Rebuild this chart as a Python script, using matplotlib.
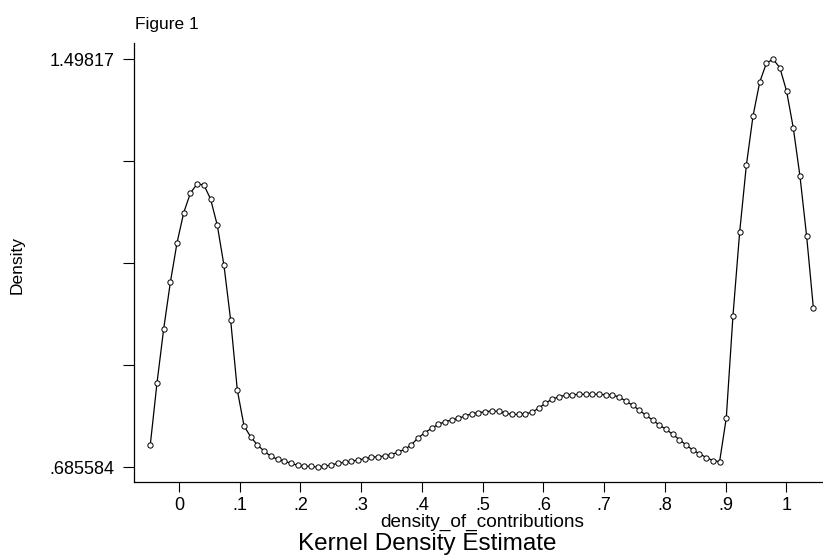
import matplotlib
matplotlib.use("Agg")
import matplotlib.pyplot as plt
import numpy as np

plt.rcParams["font.family"] = ["Liberation Sans", "DejaVu Sans"]

# evaluation grid of the kernel density (100 points)
x_start = -0.0473
x_end = 1.0445
n_points = 100

density = [
    0.730, 0.853, 0.961, 1.054, 1.133, 1.193, 1.232, 1.250, 1.248, 1.220,
    1.168, 1.088, 0.979, 0.839, 0.768, 0.746, 0.730, 0.718, 0.7075, 0.7015,
    0.698, 0.6936, 0.6896, 0.6876, 0.6876, 0.685584, 0.6876, 0.6902, 0.6936, 0.6955,
    0.6975, 0.7001, 0.7027, 0.7055, 0.7067, 0.7081, 0.7107, 0.7161, 0.7214, 0.7306,
    0.7445, 0.7545, 0.7633, 0.7712, 0.7764, 0.7798, 0.7832, 0.7878, 0.7923, 0.7943,
    0.7963, 0.7977, 0.7971, 0.7937, 0.7911, 0.7911, 0.7917, 0.7957, 0.8031, 0.8136,
    0.8210, 0.8262, 0.8290, 0.8302, 0.8310, 0.8310, 0.8310, 0.8310, 0.8302, 0.8296,
    0.8256, 0.8176, 0.8091, 0.7997, 0.7891, 0.7798, 0.7698, 0.7613, 0.7513, 0.7409,
    0.7300, 0.7200, 0.7127, 0.7051, 0.6991, 0.6967, 0.7838, 0.9875, 1.1542, 1.2871,
    1.3858, 1.4530, 1.4908, 1.49817, 1.4814, 1.4350, 1.3620, 1.2657, 1.1456, 1.0035,
]

x_ticks = [0, 0.1, 0.2, 0.3, 0.4, 0.5, 0.6, 0.7, 0.8, 0.9, 1.0]
x_tick_labels = ["0", ".1", ".2", ".3", ".4", ".5", ".6", ".7", ".8", ".9", "1"]
y_min_label = 0.685584
y_max_label = 1.49817
y_tick_labels = [".685584", "", "", "", "1.49817"]

xs = np.linspace(x_start, x_end, n_points)

fig = plt.figure(figsize=(8.23, 5.55), dpi=100)
ax = fig.add_axes([0.1634, 0.1315, 0.8366, 0.791])

ax.plot(xs, density, color="black", lw=0.9, marker="o", markersize=3.8,
        markerfacecolor="white", markeredgecolor="black", markeredgewidth=0.7)

ax.set_xlim(-0.0733, 1.0604)
ax.set_ylim(0.6563, 1.5306)

ax.set_xticks(x_ticks)
ax.set_xticklabels(x_tick_labels)
# min and max labelled, three unlabelled ticks between
ax.set_yticks(np.linspace(y_min_label, y_max_label, 5))
ax.set_yticklabels(y_tick_labels)

ax.tick_params(axis="y", length=8, width=0.8, pad=6.5, labelsize=13)
ax.tick_params(axis="x", length=7.5, width=0.8, pad=3, labelsize=13)

for side in ["top", "right"]:
    ax.spines[side].set_visible(False)
for side in ["left", "bottom"]:
    ax.spines[side].set_linewidth(0.9)

fig.text(135 / 823, 1 - 29 / 555, "Figure 1", fontsize=12.5, ha="left", va="baseline")
fig.text(17 / 823, 1 - 265 / 555, "Density", fontsize=12.5, rotation=90,
         ha="center", va="center")
fig.text(481.7 / 823, 1 - 526.7 / 555, "density_of_contributions", fontsize=13.7,
         ha="center", va="baseline")
fig.text(427 / 823, 1 - 550 / 555, "Kernel Density Estimate", fontsize=17.5,
         ha="center", va="baseline")

fig.savefig("out.png", dpi=100)
plt.close(fig)
